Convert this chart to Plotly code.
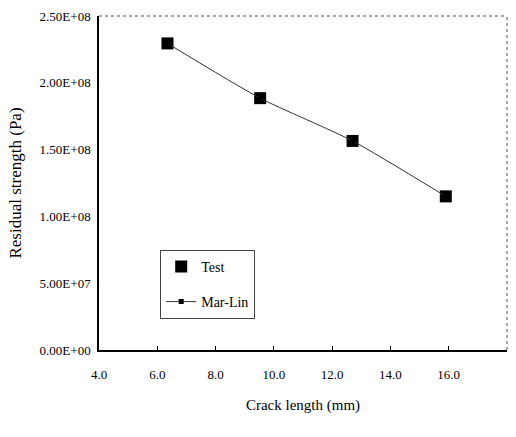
import plotly.graph_objects as go

crack_mm = [6.35, 9.53, 12.7, 15.9]
test_pa = [2.295e8, 1.885e8, 1.565e8, 1.15e8]
marlin_pa = [2.295e8, 1.885e8, 1.565e8, 1.15e8]

x_ticks = [4, 6, 8, 10, 12, 14, 16, 18]
x_labels = ["4.0", "6.0", "8.0", "10.0", "12.0", "14.0", "16.0", "18.0"]
y_ticks = [0, 5e7, 1e8, 1.5e8, 2e8, 2.5e8]
y_labels = ["0.00E+00", "5.00E+07", "1.00E+08", "1.50E+08", "2.00E+08", "2.50E+08"]

font_family = "Times New Roman, Liberation Serif, DejaVu Serif, serif"

fig = go.Figure()
fig.add_trace(go.Scatter(
    x=crack_mm, y=test_pa, mode="markers", name="Test",
    marker=dict(symbol="square", size=12, color="black"),
    legendgroup="a",
))
fig.add_trace(go.Scatter(
    x=crack_mm, y=marlin_pa, mode="lines+markers", name="Mar-Lin",
    line=dict(color="#333333", width=1, shape="spline", smoothing=0.6),
    marker=dict(symbol="square", size=5, color="black"),
    legendgroup="b",
))

fig.add_shape(type="line", xref="paper", yref="paper", x0=0, x1=1, y0=1, y1=1,
              line=dict(color="#555555", width=1, dash="dot"), layer="above")
fig.add_shape(type="line", xref="paper", yref="paper", x0=1, x1=1, y0=0, y1=1,
              line=dict(color="#555555", width=1, dash="dot"), layer="above")

fig.update_layout(
    width=516, height=437,
    margin=dict(l=99, r=9, t=14, b=87),
    paper_bgcolor="white", plot_bgcolor="white",
    font=dict(family=font_family, size=12, color="black"),
    showlegend=True,
    legend=dict(
        x=0.15, y=0.30, xanchor="left", yanchor="top",
        bordercolor="#444444", borderwidth=1, bgcolor="white",
        font=dict(family=font_family, size=14, color="black"),
        tracegroupgap=14, traceorder="grouped", itemwidth=30,
    ),
    xaxis=dict(
        range=[4, 18], tickvals=x_ticks, ticktext=x_labels,
        showgrid=False, zeroline=False, showline=True, linecolor="black", linewidth=1.5,
        ticks="inside", ticklen=4, tickcolor="black", ticklabelstandoff=12,
        tickfont=dict(family=font_family, size=13),
        title=dict(text="Crack length (mm)", font=dict(family=font_family, size=15), standoff=18),
    ),
    yaxis=dict(
        range=[0, 2.5e8], tickvals=y_ticks, ticktext=y_labels,
        showgrid=False, zeroline=False, showline=True, linecolor="black", linewidth=1.5,
        ticks="", ticklabelstandoff=4, tickfont=dict(family=font_family, size=13),
        title=dict(text="Residual strength (Pa)", font=dict(family=font_family, size=17), standoff=14),
    ),
)

fig.write_html("out.html", config={"displayModeBar": False},
               post_script="document.body.style.margin='0';document.body.style.overflow='hidden';")
